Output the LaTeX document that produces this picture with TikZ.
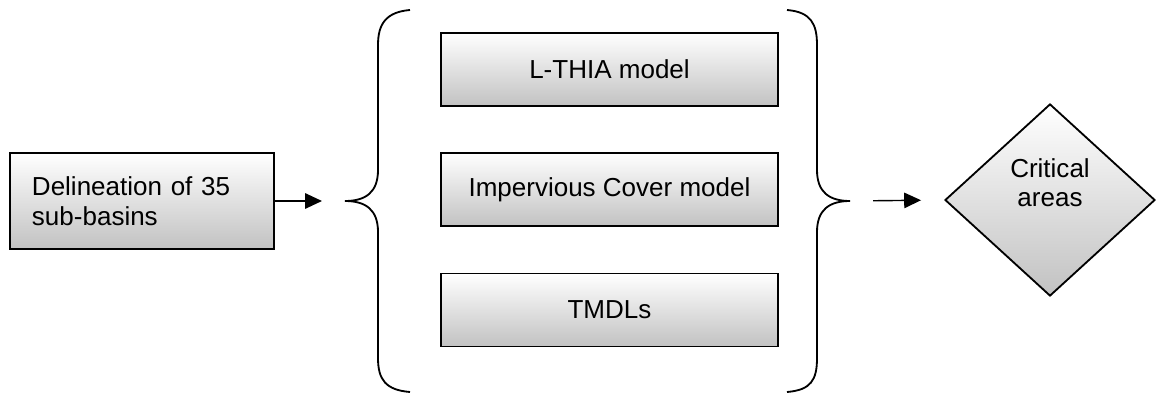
\documentclass[tikz,border=0pt]{standalone}
\usepackage{fontspec}
\setmainfont{Liberation Sans}
\usetikzlibrary{positioning, arrows.meta, shapes.geometric}

\begin{document}
\begin{tikzpicture}[
  x=0.025cm, y=-0.025cm,
  font=\fontsize{18.5}{21}\selectfont,
  grad/.style={draw=black, line width=1.3pt, top color=white, bottom color=black!24},
  srcbox/.style={grad, minimum width=6.6cm, minimum height=2.4cm,
    text width=5.5cm, align=left, inner sep=0pt},
  modelbox/.style={grad, minimum width=8.425cm, minimum height=1.825cm, inner sep=0pt},
  result/.style={grad, diamond, minimum width=5.25cm, minimum height=4.8cm,
    inner sep=0pt, align=center},
  brace/.style={line width=1.3pt},
  flow/.style={line width=1pt, -{Triangle[length=12pt, width=11pt]}},
]
  \useasboundingbox (0,0) rectangle (1156,393);

  \node[srcbox] (src) at (142,201) {Delineation of 35\\sub-basins\\[-3pt]};

  \node[modelbox] (lthia) at (609.5,69.5) {L-THIA model};
  \node[modelbox] (icm)   at (609.5,189.5) {Impervious Cover model};
  \node[modelbox] (tmdl)  at (609.5,310) {TMDLs};

  \node[result] (crit) at (1050,200) {Critical\\areas\\[4pt]};

  % braces round the three models
  \coordinate (lbrace) at (345,201);
  \coordinate (rbrace) at (850,201);
  \draw[brace] (410,10) .. controls (386,12) and (378,24) .. (378,45)
    -- (378,170) .. controls (378,192) and (366,201) .. (lbrace)
    .. controls (366,201) and (378,210) .. (378,232)
    -- (378,358) .. controls (378,380) and (386,390) .. (410,392);
  \draw[brace] (787,10) .. controls (811,12) and (817,24) .. (817,45)
    -- (817,170) .. controls (817,192) and (829,201) .. (rbrace)
    .. controls (829,201) and (817,210) .. (817,232)
    -- (817,358) .. controls (817,380) and (811,390) .. (787,392);

  \draw[flow, shorten >=0.575cm] (src.east) -- (lbrace);
  \draw[flow, shorten <=0.575cm, shorten >=0.575cm] (rbrace) -- (crit.west);
\end{tikzpicture}
\end{document}
